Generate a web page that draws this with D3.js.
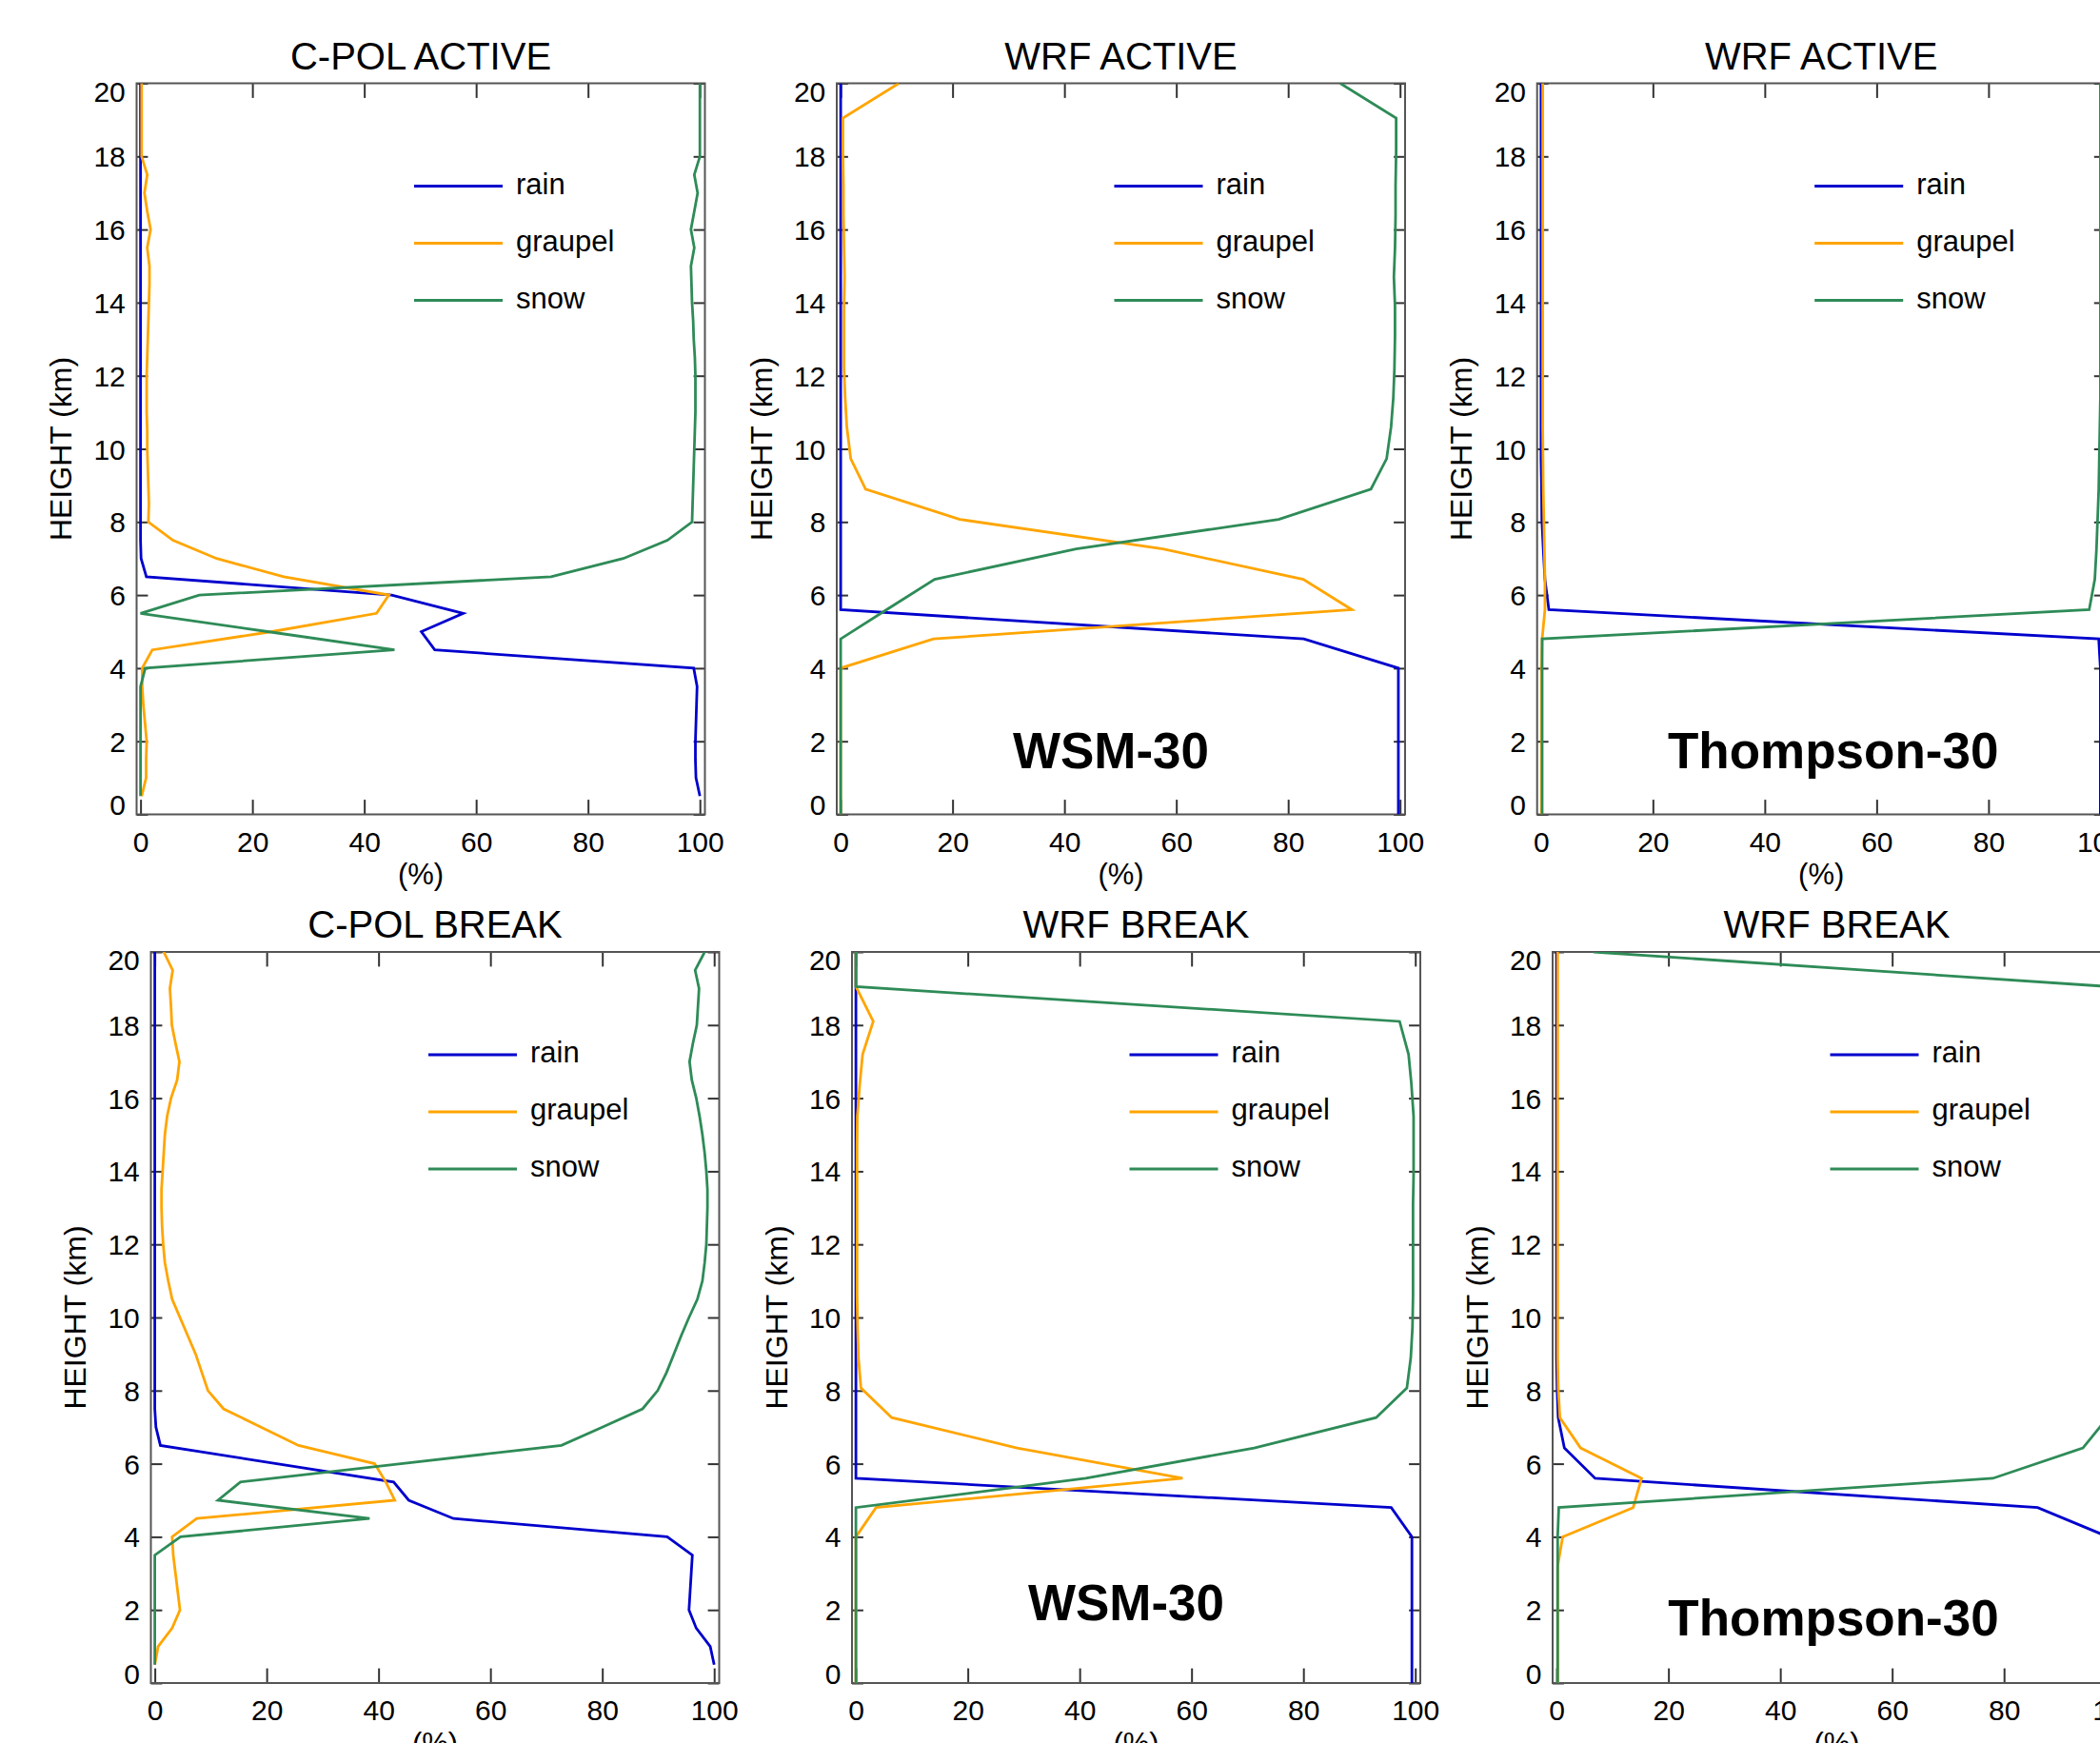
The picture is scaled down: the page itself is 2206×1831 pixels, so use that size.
<!DOCTYPE html>
<html>
<head>
<meta charset="utf-8">
<script src="https://cdn.jsdelivr.net/npm/d3@7"></script>
<style>
  body { margin: 0; background: #fff; }
  svg text { font-family: "Liberation Sans", Arial, Helvetica, sans-serif; fill: #000; }
</style>
</head>
<body>
<div id="chart"></div>
<script>
// ---- data (percent of each category by height) ----
const cpolHeights = [0.5, 1, 1.5, 2, 2.5, 3, 3.5, 4, 4.5, 5, 5.5, 6, 6.5, 7, 7.5, 8, 8.5, 9, 9.5, 10,
  10.5, 11, 11.5, 12, 12.5, 13, 13.5, 14, 14.5, 15, 15.5, 16, 16.5, 17, 17.5, 18, 18.5, 19, 19.5, 20];

const wrfHeights = [0, 0.8, 1.6, 2.4, 3.2, 4.0, 4.8, 5.6, 6.43, 7.26, 8.07, 8.9, 9.73, 10.6, 11.4,
  12.2, 13.1, 13.9, 14.7, 15.5, 16.4, 17.2, 18.1, 19.05, 20.0];

// C-POL ACTIVE
const cpolActiveRain = [100, 99.3, 99.2, 99.2, 99.3, 99.4, 99.5, 98.9, 52.6, 50.2, 57.7, 44.9, 1.05, 0.1, 0, 0, 0, 0, 0, 0,
  0, 0, 0, 0, 0, 0, 0, 0, 0, 0, 0, 0, 0, 0, 0, 0, 0, 0, 0, 0];
const cpolActiveGraupel = [0.2, 1.0, 1.0, 1.1, 0.8, 0.5, 0.3, 0.3, 2.1, 23.5, 42.2, 44.4, 25.6, 13.6, 5.8, 1.4, 1.5, 1.4, 1.3, 1.2,
  1.2, 1.1, 1.1, 1.1, 1.2, 1.3, 1.4, 1.5, 1.6, 1.6, 1.2, 1.8, 1.2, 0.7, 1.2, 0.2, 0.2, 0.2, 0.2, 0.2];
const cpolActiveSnow = [0, 0, 0, 0, 0, 0, 0, 0.85, 45.4, 22.7, 0, 10.5, 73.4, 86.3, 94.2, 98.6, 98.7, 98.8, 98.9, 99.0,
  99.1, 99.2, 99.2, 99.2, 99.1, 98.9, 98.8, 98.6, 98.5, 98.4, 99.0, 98.4, 99.0, 99.6, 99.0, 100, 100, 100, 100, 100];

// C-POL BREAK
const cpolBreakRain = [100, 99.3, 96.8, 95.5, 95.7, 95.9, 96.1, 91.6, 53.4, 45.4, 42.7, 21.8, 1.0, 0.2, 0, 0, 0, 0, 0, 0,
  0, 0, 0, 0, 0, 0, 0, 0, 0, 0, 0, 0, 0, 0, 0, 0, 0, 0, 0, 0];
const cpolBreakGraupel = [0, 0.6, 3.1, 4.5, 4.1, 3.7, 3.3, 3.1, 7.5, 42.9, 41.3, 39.3, 25.7, 19.0, 12.3, 9.5, 8.4, 7.3, 5.9, 4.5,
  3.1, 2.4, 1.8, 1.5, 1.3, 1.2, 1.2, 1.4, 1.6, 1.8, 2.2, 2.9, 4.0, 4.4, 3.7, 3.05, 2.9, 2.7, 3.2, 1.6];
const cpolBreakSnow = [0, 0, 0, 0, 0, 0, 0, 4.6, 38.4, 11.3, 15.3, 44, 72.7, 80.0, 87.2, 89.9, 91.5, 92.8, 94.1, 95.5,
  97.0, 97.9, 98.3, 98.6, 98.7, 98.8, 98.8, 98.6, 98.3, 97.9, 97.4, 96.8, 96.0, 95.6, 96.2, 96.9, 97.1, 97.3, 96.6, 98.3];

// WRF ACTIVE, WSM
const wsmActiveRain = [99.7, 99.7, 99.7, 99.7, 99.7, 99.7, 82.8, 0, 0, 0, 0, 0, 0, 0, 0, 0, 0, 0, 0, 0, 0, 0, 0, 0, 0];
const wsmActiveGraupel = [0, 0, 0, 0, 0, 0, 16.6, 91.4, 82.7, 57.6, 21.3, 4.45, 1.8, 1.1, 0.8, 0.6, 0.6, 0.6, 0.7, 0.6,
  0.5, 0.5, 0.4, 0.4, 10.4];
const wsmActiveSnow = [0, 0, 0, 0, 0, 0, 0, 8.2, 16.8, 42.1, 78.3, 94.8, 97.6, 98.4, 98.8, 99.0, 99.1, 99.1, 98.9, 99.1,
  99.2, 99.2, 99.3, 99.3, 89.3];

// WRF ACTIVE, Thompson
const thomActiveRain = [100, 100, 100, 100, 100, 100, 99.7, 1.4, 0.7, 0.4, 0.15, 0.1, 0, 0, 0, 0, 0, 0, 0, 0, 0, 0, 0, 0, 0];
const thomActiveGraupel = [0.1, 0.1, 0.1, 0.1, 0.1, 0.1, 0.2, 0.7, 0.7, 0.6, 0.5, 0.4, 0.35, 0.3, 0.3, 0.3, 0.3, 0.3, 0.3,
  0.3, 0.3, 0.3, 0.3, 0.3, 0.3];
const thomActiveSnow = [0.2, 0.2, 0.2, 0.2, 0.2, 0.2, 0.2, 98.0, 99.0, 99.3, 99.5, 99.7, 99.8, 99.9, 100, 100, 100, 100, 100,
  100, 100, 100, 100, 100, 100];

// WRF BREAK, WSM
const wsmBreakRain = [99.4, 99.4, 99.4, 99.4, 99.4, 99.4, 95.7, 0, 0, 0, 0, 0, 0, 0, 0, 0, 0, 0, 0, 0, 0, 0, 0, 0, 0];
const wsmBreakGraupel = [0, 0, 0, 0, 0, 0, 3.6, 58.4, 28.8, 6.4, 0.9, 0.45, 0.3, 0.2, 0.2, 0.2, 0.2, 0.2, 0.2, 0.25,
  0.7, 1.2, 3.1, 0, 0];
const wsmBreakSnow = [0, 0, 0, 0, 0, 0, 0, 41.1, 71.2, 93.0, 98.5, 99.2, 99.5, 99.6, 99.6, 99.6, 99.6, 99.7, 99.7, 99.7,
  99.3, 98.8, 97.2, 0, 0];

// WRF BREAK, Thompson
const thomBreakRain = [99.5, 99.5, 99.5, 99.5, 99.5, 98.6, 86.0, 6.9, 1.4, 0.3, 0.1, 0, 0, 0, 0, 0, 0, 0, 0, 0, 0, 0, 0, 0, 0];
const thomBreakGraupel = [0.2, 0.2, 0.2, 0.2, 0.2, 1.1, 13.7, 15.2, 4.3, 0.6, 0.3, 0.2, 0.2, 0.2, 0.2, 0.2, 0.2, 0.2, 0.2,
  0.2, 0.2, 0.2, 0.2, 0.2, 0.2];
const thomBreakSnow = [0.2, 0.2, 0.2, 0.2, 0.2, 0.2, 0.4, 78.0, 94.1, 98.5, 99.5, 99.8, 99.9, 99.9, 99.9, 99.9, 99.9, 99.9,
  99.9, 99.9, 99.9, 99.9, 99.9, 99, 6.6];

const seriesNames = ["rain", "graupel", "snow"];
const seriesColors = ["#0000cd", "#ffa500", "#2e8b57"];
const xTicks = [0, 20, 40, 60, 80, 100];
const yTicks = [0, 2, 4, 6, 8, 10, 12, 14, 16, 18, 20];

const panels = [
  { title: "C-POL ACTIVE", h: cpolHeights, vals: [cpolActiveRain, cpolActiveGraupel, cpolActiveSnow], note: "" },
  { title: "WRF ACTIVE", h: wrfHeights, vals: [wsmActiveRain, wsmActiveGraupel, wsmActiveSnow], note: "WSM-30" },
  { title: "WRF ACTIVE", h: wrfHeights, vals: [thomActiveRain, thomActiveGraupel, thomActiveSnow], note: "Thompson-30" },
  { title: "C-POL BREAK", h: cpolHeights, vals: [cpolBreakRain, cpolBreakGraupel, cpolBreakSnow], note: "" },
  { title: "WRF BREAK", h: wrfHeights, vals: [wsmBreakRain, wsmBreakGraupel, wsmBreakSnow], note: "WSM-30" },
  { title: "WRF BREAK", h: wrfHeights, vals: [thomBreakRain, thomBreakGraupel, thomBreakSnow], note: "Thompson-30" }
];

// ---- layout ----
const W = 2206, H = 1831;
const pw = 597, ph = 768;
const layout = [
  { left: 143.5, top: 87.5, noteX: 288, noteY: 719 },
  { left: 879, top: 87.5, noteX: 288, noteY: 719 },
  { left: 1614.7, top: 87.5, noteX: 311, noteY: 719 },
  { left: 158.5, top: 1000, noteX: 288, noteY: 702 },
  { left: 895, top: 1000, noteX: 288, noteY: 702 },
  { left: 1631, top: 1000, noteX: 295, noteY: 718 }
];

const svg = d3.select("#chart").append("svg")
  .attr("width", W).attr("height", H)
  .style("display", "block");

const x = d3.scaleLinear().domain([-0.7, 100.9]).range([0, pw]);
const y = d3.scaleLinear().domain([0, 20]).range([ph, 0]);

const line = d3.line().x(d => x(d[1])).y(d => y(d[0]));

panels.forEach((p, i) => {
  const L = layout[i];
  const g = svg.append("g").attr("transform", "translate(" + L.left + "," + L.top + ")");

  g.append("defs").append("clipPath").attr("id", "clip" + i)
    .append("rect").attr("width", pw).attr("height", ph);

  // axes, ticks pointing inward
  const styleAxis = a => {
    a.select(".domain").remove();
    a.attr("font-size", 30).attr("font-family", null);
    a.selectAll(".tick line").attr("stroke", "#333").attr("stroke-width", 2);
  };

  g.append("g").attr("transform", "translate(0," + ph + ")")
    .call(d3.axisBottom(x).tickValues(xTicks).tickSizeInner(-15.4).tickSizeOuter(0).tickPadding(18))
    .call(styleAxis);

  g.append("g")
    .call(d3.axisTop(x).tickValues(xTicks).tickSizeInner(-15.4).tickSizeOuter(0).tickFormat(""))
    .call(styleAxis);

  const ya = g.append("g")
    .call(d3.axisLeft(y).tickValues(yTicks).tickSizeInner(-11.9).tickSizeOuter(0).tickPadding(11.7))
    .call(styleAxis);
  ya.selectAll(".tick text").attr("dy", d => d === 20 ? "0.62em" : d === 0 ? "0em" : "0.35em");

  g.append("g").attr("transform", "translate(" + pw + ",0)")
    .call(d3.axisRight(y).tickValues(yTicks).tickSizeInner(-11.9).tickSizeOuter(0).tickFormat(""))
    .call(styleAxis);

  g.append("rect").attr("width", pw).attr("height", ph)
    .attr("fill", "none").attr("stroke", "#555").attr("stroke-width", 2);

  // profiles
  const lines = g.append("g").attr("clip-path", "url(#clip" + i + ")");
  p.vals.forEach((v, k) => {
    lines.append("path")
      .datum(d3.zip(p.h, v))
      .attr("d", line)
      .attr("fill", "none")
      .attr("stroke", seriesColors[k])
      .attr("stroke-width", 2.8)
      .attr("stroke-linejoin", "miter");
  });

  // legend
  seriesNames.forEach((name, k) => {
    const ly = 108 + k * 60;
    g.append("line").attr("x1", 291.5).attr("x2", 384.5).attr("y1", ly).attr("y2", ly)
      .attr("stroke", seriesColors[k]).attr("stroke-width", 2.8);
    g.append("text").attr("x", 398.5).attr("y", ly + 8).attr("font-size", 31).text(name);
  });

  // titles and labels
  g.append("text").attr("x", pw / 2).attr("y", -15).attr("text-anchor", "middle")
    .attr("font-size", 40).text(p.title);

  g.append("text").attr("x", pw / 2).attr("y", ph + 73.5).attr("text-anchor", "middle")
    .attr("font-size", 31).text("(%)");

  g.append("text").attr("transform", "translate(-68.5," + ph / 2 + ") rotate(-90)")
    .attr("text-anchor", "middle").attr("font-size", 32).text("HEIGHT (km)");

  if (p.note) {
    g.append("text").attr("x", L.noteX).attr("y", L.noteY).attr("text-anchor", "middle")
      .attr("font-size", 53).attr("font-weight", "bold").text(p.note);
  }
});
</script>
</body>
</html>
